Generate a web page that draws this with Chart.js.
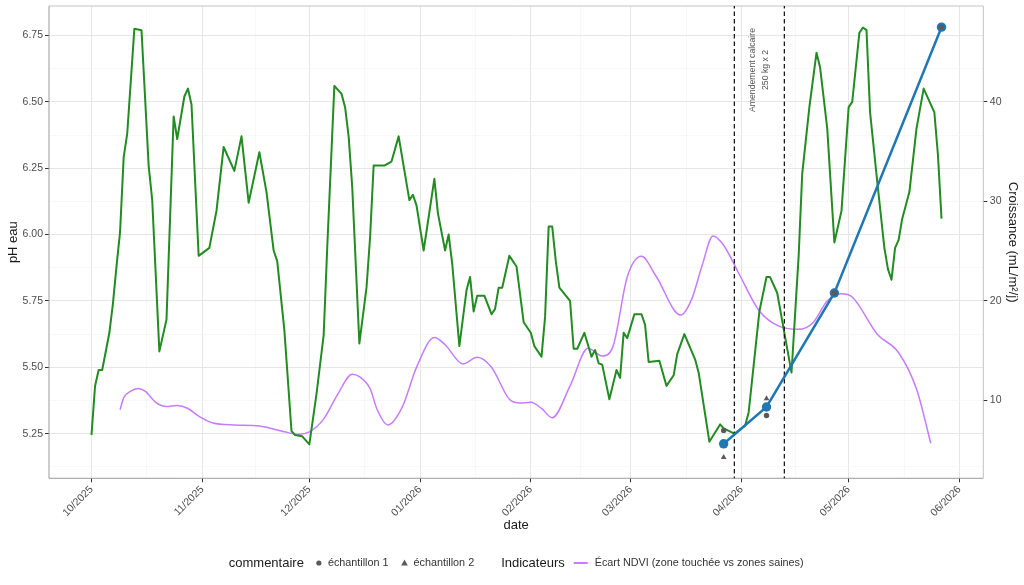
<!DOCTYPE html>
<html>
<head>
<meta charset="utf-8">
<title>pH eau / Croissance</title>
<style>
  html, body { margin: 0; padding: 0; background: #ffffff; }
  #wrap { width: 1024px; height: 585px; }
</style>
<script src="https://cdn.jsdelivr.net/npm/chart.js@4.4.1/dist/chart.umd.min.js"></script>
</head>
<body>
<div id="wrap"><canvas id="chart" width="1024" height="585"></canvas></div>
<script>
// ---- data ----
const phDates = [
  '2025-10-01', '2025-10-02', '2025-10-03', '2025-10-04', '2025-10-06', '2025-10-07', '2025-10-08',
  '2025-10-09', '2025-10-10', '2025-10-11', '2025-10-13', '2025-10-15', '2025-10-17', '2025-10-18',
  '2025-10-20', '2025-10-22', '2025-10-24', '2025-10-25', '2025-10-27', '2025-10-28', '2025-10-29',
  '2025-10-31', '2025-11-03', '2025-11-05', '2025-11-07', '2025-11-10', '2025-11-12', '2025-11-14',
  '2025-11-17', '2025-11-19', '2025-11-21', '2025-11-22', '2025-11-24', '2025-11-26', '2025-11-27',
  '2025-11-29', '2025-12-01', '2025-12-03', '2025-12-05', '2025-12-06', '2025-12-08', '2025-12-10',
  '2025-12-11', '2025-12-12', '2025-12-13', '2025-12-15', '2025-12-17', '2025-12-18', '2025-12-19',
  '2025-12-22', '2025-12-24', '2025-12-26', '2025-12-28', '2025-12-29', '2025-12-30', '2025-12-31',
  '2026-01-02', '2026-01-05', '2026-01-06', '2026-01-08', '2026-01-09', '2026-01-10', '2026-01-12',
  '2026-01-14', '2026-01-15', '2026-01-16', '2026-01-17', '2026-01-19', '2026-01-21', '2026-01-22',
  '2026-01-23', '2026-01-24', '2026-01-26', '2026-01-28', '2026-01-30', '2026-02-01', '2026-02-02',
  '2026-02-04', '2026-02-05', '2026-02-06', '2026-02-07', '2026-02-08', '2026-02-09', '2026-02-12',
  '2026-02-13', '2026-02-14', '2026-02-16', '2026-02-18', '2026-02-19', '2026-02-20', '2026-02-21',
  '2026-02-23', '2026-02-25', '2026-02-26', '2026-02-27', '2026-02-28', '2026-03-02', '2026-03-04',
  '2026-03-05', '2026-03-06', '2026-03-09', '2026-03-11', '2026-03-13', '2026-03-14', '2026-03-16',
  '2026-03-19', '2026-03-20', '2026-03-23', '2026-03-26', '2026-03-27', '2026-03-30', '2026-04-02',
  '2026-04-03', '2026-04-06', '2026-04-08', '2026-04-09', '2026-04-11', '2026-04-13', '2026-04-15',
  '2026-04-17', '2026-04-18', '2026-04-20', '2026-04-22', '2026-04-23', '2026-04-25', '2026-04-27',
  '2026-04-29', '2026-05-01', '2026-05-02', '2026-05-04', '2026-05-05', '2026-05-06', '2026-05-07',
  '2026-05-09', '2026-05-11', '2026-05-12', '2026-05-13', '2026-05-14', '2026-05-15', '2026-05-16',
  '2026-05-18', '2026-05-20', '2026-05-22', '2026-05-25', '2026-05-26', '2026-05-27',
];
const phValues = [
  5.245, 5.43, 5.49, 5.49, 5.63, 5.74, 5.88,
  6.01, 6.29, 6.38, 6.775, 6.77, 6.26, 6.13,
  5.56, 5.68, 6.445, 6.36, 6.52, 6.55, 6.49,
  5.92, 5.95, 6.09, 6.33, 6.24, 6.37, 6.12,
  6.31, 6.16, 5.94, 5.90, 5.64, 5.26, 5.245,
  5.24, 5.21, 5.40, 5.62, 5.95, 6.56, 6.53,
  6.48, 6.37, 6.18, 5.59, 5.80, 5.99, 6.26,
  6.26, 6.275, 6.37, 6.21, 6.13, 6.15, 6.11,
  5.94, 6.21, 6.08, 5.94, 6.00, 5.89, 5.58,
  5.79, 5.84, 5.71, 5.77, 5.77, 5.70, 5.72,
  5.80, 5.80, 5.92, 5.88, 5.67, 5.63, 5.58,
  5.54, 5.69, 6.03, 6.03, 5.90, 5.80, 5.75,
  5.57, 5.57, 5.63, 5.54, 5.565, 5.515, 5.51,
  5.38, 5.49, 5.46, 5.63, 5.61, 5.70, 5.70,
  5.66, 5.52, 5.525, 5.43, 5.47, 5.55, 5.625,
  5.53, 5.48, 5.22, 5.285, 5.27, 5.25, 5.28,
  5.33, 5.71, 5.84, 5.84, 5.78, 5.63, 5.48,
  5.92, 6.23, 6.48, 6.685, 6.63, 6.40, 5.97,
  6.09, 6.48, 6.50, 6.76, 6.78, 6.77, 6.46,
  6.20, 5.95, 5.87, 5.83, 5.95, 5.98, 6.06,
  6.16, 6.40, 6.55, 6.46, 6.30, 6.06,
];

// Écart NDVI, drawn in pH-axis units
const ndviDates = [
  '2025-10-09', '2025-10-10', '2025-10-12', '2025-10-14', '2025-10-16', '2025-10-19', '2025-10-22',
  '2025-10-25', '2025-10-28', '2025-10-31', '2025-11-04', '2025-11-10', '2025-11-17', '2025-11-24',
  '2025-11-28', '2025-12-01', '2025-12-05', '2025-12-09', '2025-12-13', '2025-12-15', '2025-12-18',
  '2025-12-20', '2025-12-23', '2025-12-27', '2025-12-31', '2026-01-05', '2026-01-08', '2026-01-13',
  '2026-01-17', '2026-01-21', '2026-01-26', '2026-01-29', '2026-02-01', '2026-02-04', '2026-02-07',
  '2026-02-12', '2026-02-17', '2026-02-21', '2026-02-24', '2026-02-28', '2026-03-04', '2026-03-08',
  '2026-03-15', '2026-03-18', '2026-03-21', '2026-03-24', '2026-03-27', '2026-03-31', '2026-04-06',
  '2026-04-11', '2026-04-17', '2026-04-21', '2026-04-25', '2026-04-29', '2026-05-02', '2026-05-09',
  '2026-05-15', '2026-05-20', '2026-05-24',
];
const ndviValues = [
  5.34, 5.385, 5.41, 5.42, 5.41, 5.368, 5.352,
  5.356, 5.345, 5.316, 5.29, 5.283, 5.279, 5.257,
  5.248, 5.257, 5.305, 5.40, 5.474, 5.465, 5.42,
  5.34, 5.283, 5.35, 5.50, 5.612, 5.585, 5.513,
  5.538, 5.50, 5.38, 5.366, 5.368, 5.345, 5.31,
  5.43, 5.572, 5.543, 5.578, 5.84, 5.918, 5.845,
  5.697, 5.755, 5.885, 5.995, 5.96, 5.86, 5.712,
  5.658, 5.643, 5.668, 5.75, 5.777, 5.765, 5.625,
  5.555, 5.418, 5.214,
];

// Croissance (mL/m²/j), right axis
const growthDates = ['2026-03-27', '2026-04-08', '2026-04-27', '2026-05-27'];
const growthValues = [5.65, 9.35, 20.8, 47.5];
const sample1Dates = ['2026-03-27', '2026-04-08', '2026-04-27', '2026-05-27'];
const sample1Values = [7.0, 8.5, 20.8, 47.5];
const sample2Dates = ['2026-03-27', '2026-04-08'];
const sample2Values = [4.3, 10.2];

// amendment markers
const amendmentDates = ['2026-03-30', '2026-04-13'];
const amendmentText = ['Amendement calcaire', '250 kg x 2'];
const amendmentTextDate = '2026-04-06';
const amendmentTextPh = 6.62;

// axes
const monthTicks = [
  '2025-10-01', '2025-11-01', '2025-12-01', '2026-01-01', '2026-02-01',
  '2026-03-01', '2026-04-01', '2026-05-01', '2026-06-01',
];
const monthLabels = ['10/2025', '11/2025', '12/2025', '01/2026', '02/2026', '03/2026', '04/2026', '05/2026', '06/2026'];
const phTicks = [5.25, 5.5, 5.75, 6.0, 6.25, 6.5, 6.75];
const growthTicks = [10, 20, 30, 40];

const legendTitles = ['commentaire', 'Indicateurs'];
const sampleLabels = ['échantillon 1', 'échantillon 2'];
const ndviLabel = 'Écart NDVI (zone touchée vs zones saines)';

// ---- helpers ----
const FONT = "'Liberation Sans', Arial, Helvetica, sans-serif";
const ORIGIN = Date.UTC(2025, 9, 1);
const COLORS = {
  ph: '#228B22',
  ndvi: '#C77CFF',
  growth: '#1F78B4',
  sample: '#5a5a5a',
  gridMajor: '#e6e6e6',
  gridMinor: '#f3f3f3',
  tickText: '#4d4d4d',
  title: '#1a1a1a',
};

function dayOf(s) {
  const [y, m, d] = s.split('-').map(Number);
  return (Date.UTC(y, m - 1, d) - ORIGIN) / 86400000;
}
function pairs(dates, values) {
  return dates.map((d, i) => ({ x: dayOf(d), y: values[i] }));
}

// secondary axis is a linear transform of the pH axis: croissance = (pH - 5) / 0.0375
const X_MIN = -11.9, X_MAX = 249.7;
const Y_MIN = 5.082, Y_MAX = 6.861;
const Y1_MIN = (Y_MIN - 5) / 0.0375;
const Y1_MAX = (Y_MAX - 5) / 0.0375;

function withMinors(majors) {
  const out = [];
  majors.forEach((v, i) => {
    out.push({ value: v, idx: i });
    if (i < majors.length - 1) out.push({ value: (v + majors[i + 1]) / 2, minor: true });
  });
  return out;
}

const gridColor = (c) => (c.tick && c.tick.minor ? COLORS.gridMinor : COLORS.gridMajor);
const gridWidth = (c) => (c.tick && c.tick.minor ? 0.6 : 1);
const tickColor = (c) => (c.tick && c.tick.minor ? 'rgba(0,0,0,0)' : '#333333');

// keep the panel where the reference has it: no extra label overflow padding
function fixBox(size) {
  return (scale) => {
    if (scale.isHorizontal()) scale.height = size;
    else scale.width = size;
    scale.paddingTop = 0;
    scale.paddingBottom = 0;
    scale.paddingLeft = 0;
    scale.paddingRight = 0;
  };
}

// ---- plugins ----
const panelBorder = {
  id: 'panelBorder',
  beforeDatasetsDraw(chart) {
    const { ctx, chartArea: a } = chart;
    ctx.save();
    ctx.lineWidth = 1;
    ctx.strokeStyle = '#c4c4c4';
    ctx.beginPath();
    ctx.moveTo(a.left, a.top);
    ctx.lineTo(a.right, a.top);
    ctx.lineTo(a.right, a.bottom);
    ctx.stroke();
    ctx.strokeStyle = '#9a9a9a';
    ctx.beginPath();
    ctx.moveTo(a.left, a.top);
    ctx.lineTo(a.left, a.bottom);
    ctx.lineTo(a.right, a.bottom);
    ctx.stroke();
    ctx.restore();
  },
};

const amendmentLabel = {
  id: 'amendmentLabel',
  afterDatasetsDraw(chart) {
    const { ctx, scales: { x, y } } = chart;
    const px = x.getPixelForValue(dayOf(amendmentTextDate));
    const py = y.getPixelForValue(amendmentTextPh);
    ctx.save();
    ctx.translate(px, py);
    ctx.rotate(-Math.PI / 2);
    ctx.font = `8.7px ${FONT}`;
    ctx.fillStyle = '#555555';
    ctx.textAlign = 'center';
    ctx.textBaseline = 'middle';
    amendmentText.forEach((t, i) => {
      ctx.fillText(t, 0, (i - (amendmentText.length - 1) / 2) * 13.4);
    });
    ctx.restore();
  },
};

// ggplot-like legend row under the x axis title
const bottomLegend = {
  id: 'bottomLegend',
  afterDraw(chart) {
    const { ctx, chartArea: a } = chart;
    const y = 563;
    const titleFont = `13px ${FONT}`;
    const itemFont = `10.8px ${FONT}`;
    ctx.save();
    ctx.textBaseline = 'middle';
    ctx.textAlign = 'left';

    ctx.font = titleFont;
    const wT1 = ctx.measureText(legendTitles[0]).width;
    const wT2 = ctx.measureText(legendTitles[1]).width;
    ctx.font = itemFont;
    const wS1 = ctx.measureText(sampleLabels[0]).width;
    const wS2 = ctx.measureText(sampleLabels[1]).width;
    const wN = ctx.measureText(ndviLabel).width;

    const total = wT1 + 15 + 9 + wS1 + 16 + 9 + wS2 + 27 + wT2 + 9 + 14 + 7 + wN;
    let cx = (a.left + a.right) / 2 - total / 2;

    ctx.fillStyle = COLORS.title;
    ctx.font = titleFont;
    ctx.fillText(legendTitles[0], cx, y);
    cx += wT1 + 15;

    ctx.fillStyle = COLORS.sample;
    ctx.beginPath();
    ctx.arc(cx, y, 2.6, 0, Math.PI * 2);
    ctx.fill();
    cx += 9;
    ctx.fillStyle = '#333333';
    ctx.font = itemFont;
    ctx.fillText(sampleLabels[0], cx, y);
    cx += wS1 + 16;

    ctx.fillStyle = COLORS.sample;
    ctx.beginPath();
    ctx.moveTo(cx, y - 3.4);
    ctx.lineTo(cx + 3.3, y + 2.4);
    ctx.lineTo(cx - 3.3, y + 2.4);
    ctx.closePath();
    ctx.fill();
    cx += 9;
    ctx.fillStyle = '#333333';
    ctx.fillText(sampleLabels[1], cx, y);
    cx += wS2 + 27;

    ctx.fillStyle = COLORS.title;
    ctx.font = titleFont;
    ctx.fillText(legendTitles[1], cx, y);
    cx += wT2 + 9;

    ctx.strokeStyle = COLORS.ndvi;
    ctx.lineWidth = 2;
    ctx.beginPath();
    ctx.moveTo(cx, y);
    ctx.lineTo(cx + 14, y);
    ctx.stroke();
    cx += 14 + 7;

    ctx.fillStyle = '#333333';
    ctx.font = itemFont;
    ctx.fillText(ndviLabel, cx, y);
    ctx.restore();
  },
};

// ---- chart ----
const amendmentSets = amendmentDates.map((d) => ({
  label: 'amendement',
  data: [{ x: dayOf(d), y: Y_MIN - 0.01 }, { x: dayOf(d), y: Y_MAX + 0.01 }],
  yAxisID: 'y',
  borderColor: '#1a1a1a',
  borderWidth: 1.3,
  borderDash: [4.5, 3],
  pointRadius: 0,
  order: 2,
}));

new Chart(document.getElementById('chart'), {
  type: 'line',
  data: {
    datasets: [
      {
        label: 'échantillon 1',
        data: pairs(sample1Dates, sample1Values),
        yAxisID: 'y1',
        showLine: false,
        pointStyle: 'circle',
        pointRadius: 2.7,
        pointBorderWidth: 0,
        pointBackgroundColor: COLORS.sample,
        order: 0,
      },
      {
        label: 'échantillon 2',
        data: pairs(sample2Dates, sample2Values),
        yAxisID: 'y1',
        showLine: false,
        pointStyle: 'triangle',
        pointRadius: 3.3,
        pointBorderWidth: 0,
        pointBackgroundColor: COLORS.sample,
        order: 0,
      },
      {
        label: 'Croissance',
        data: pairs(growthDates, growthValues),
        yAxisID: 'y1',
        borderColor: COLORS.growth,
        borderWidth: 2.5,
        pointRadius: 4.7,
        pointBorderWidth: 0,
        pointBackgroundColor: COLORS.growth,
        order: 1,
      },
      ...amendmentSets,
      {
        label: 'pH eau',
        data: pairs(phDates, phValues),
        yAxisID: 'y',
        borderColor: COLORS.ph,
        borderWidth: 2,
        borderJoinStyle: 'round',
        pointRadius: 0,
        order: 3,
      },
      {
        label: ndviLabel,
        data: pairs(ndviDates, ndviValues),
        yAxisID: 'y',
        borderColor: COLORS.ndvi,
        borderWidth: 1.5,
        cubicInterpolationMode: 'monotone',
        pointRadius: 0,
        order: 4,
      },
    ],
  },
  options: {
    responsive: false,
    animation: false,
    events: [],
    layout: { padding: { top: 6, right: 0, bottom: 52.2, left: 0 } },
    plugins: {
      legend: { display: false },
      tooltip: { enabled: false },
    },
    scales: {
      x: {
        type: 'linear',
        min: X_MIN,
        max: X_MAX,
        bounds: 'data',
        afterBuildTicks: (scale) => {
          scale.ticks = withMinors(monthTicks.map(dayOf));
        },
        afterFit: fixBox(54.5),
        border: { display: false },
        grid: { color: gridColor, lineWidth: gridWidth, tickColor, tickLength: 4 },
        ticks: {
          autoSkip: false,
          minRotation: 45,
          maxRotation: 45,
          padding: 1,
          color: COLORS.tickText,
          font: { family: FONT, size: 10.5 },
          callback: (v, i, ticks) => (ticks[i].minor ? '' : monthLabels[ticks[i].idx]),
        },
        title: {
          display: true,
          text: 'date',
          color: COLORS.title,
          font: { family: FONT, size: 13 },
          padding: { top: 0, bottom: 0 },
        },
      },
      y: {
        type: 'linear',
        position: 'left',
        min: Y_MIN,
        max: Y_MAX,
        bounds: 'data',
        afterBuildTicks: (scale) => {
          scale.ticks = [{ value: 5.125, minor: true }].concat(withMinors(phTicks));
        },
        afterFit: fixBox(49),
        border: { display: false },
        grid: { color: gridColor, lineWidth: gridWidth, tickColor, tickLength: 4 },
        ticks: {
          padding: 2,
          color: COLORS.tickText,
          font: { family: FONT, size: 10.5 },
          callback: (v, i, ticks) => (ticks[i].minor ? '' : v.toFixed(2)),
        },
        title: {
          display: true,
          text: 'pH eau',
          color: COLORS.title,
          font: { family: FONT, size: 13 },
          padding: { top: 5.5, bottom: 0 },
        },
      },
      y1: {
        type: 'linear',
        position: 'right',
        min: Y1_MIN,
        max: Y1_MAX,
        bounds: 'data',
        afterBuildTicks: (scale) => {
          scale.ticks = growthTicks.map((v) => ({ value: v }));
        },
        afterFit: fixBox(40.7),
        border: { display: false },
        grid: { drawOnChartArea: false, tickColor: '#333333', tickLength: 4 },
        ticks: {
          padding: 2.5,
          color: COLORS.tickText,
          font: { family: FONT, size: 10.5 },
          callback: (v) => String(v),
        },
        title: {
          display: true,
          text: 'Croissance (mL/m²/j)',
          color: COLORS.title,
          font: { family: FONT, size: 13 },
          padding: { top: 3.7, bottom: 0 },
        },
      },
    },
  },
  plugins: [panelBorder, amendmentLabel, bottomLegend],
});
</script>
</body>
</html>
